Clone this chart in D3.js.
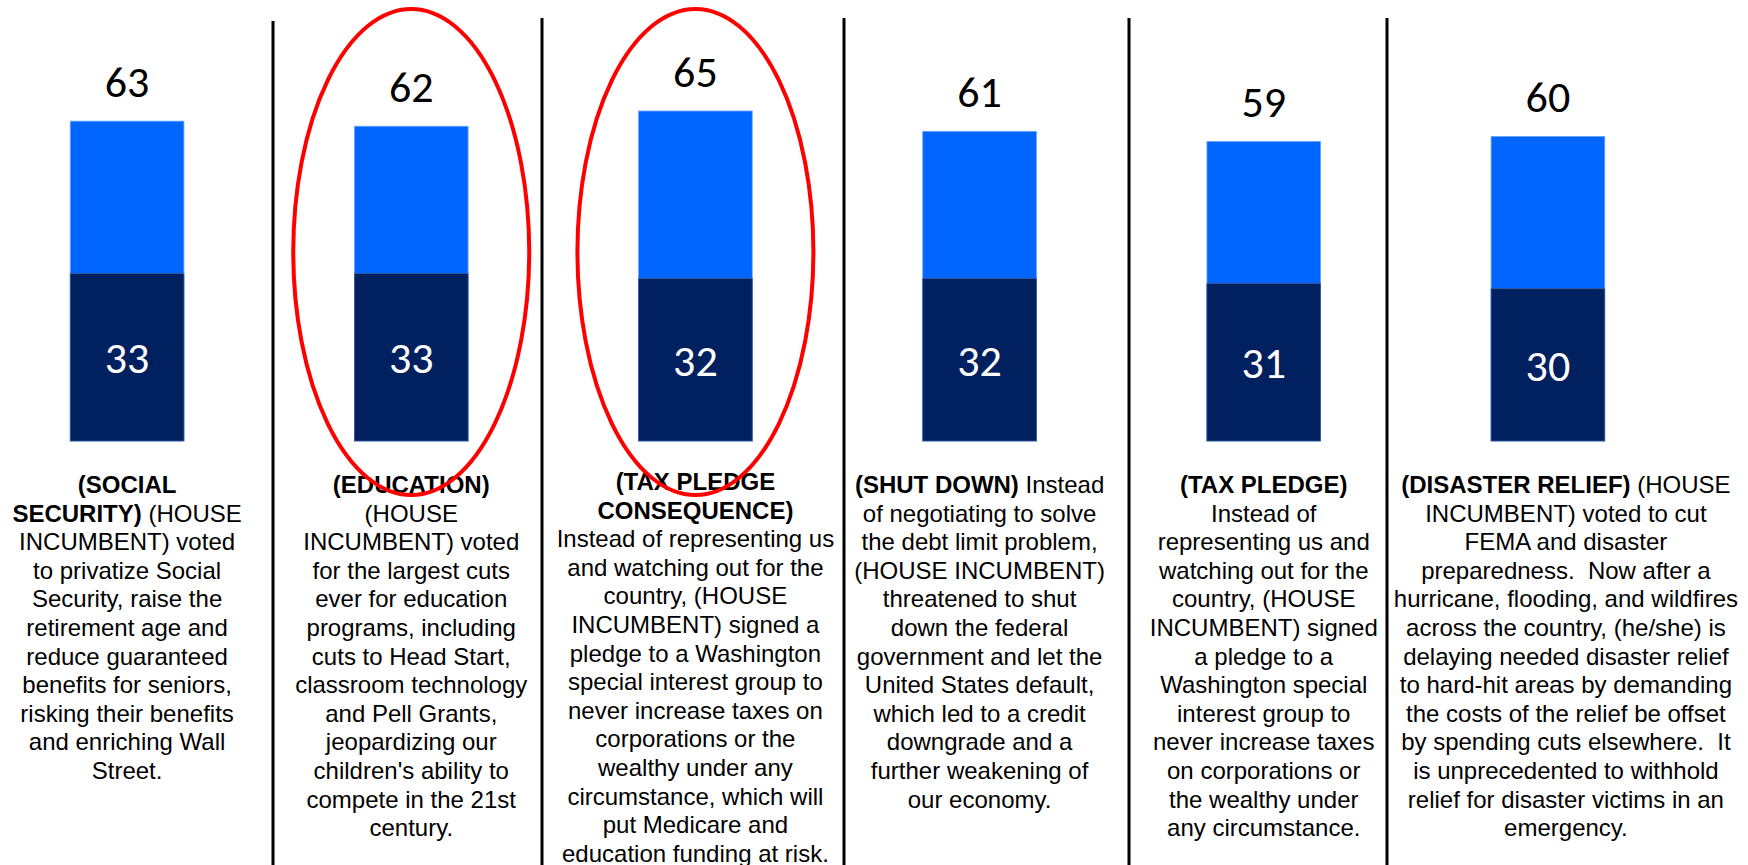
<!DOCTYPE html>
<html>
<head>
<meta charset="utf-8">
<script src="https://cdn.jsdelivr.net/npm/d3@7"></script>
<style>
  body { margin: 0; background: #fff; }
  svg { display: block; }
  .num { font-family: Carlito, Calibri, Lato, sans-serif; font-size: 44px; }
  .desc { font-family: "Liberation Sans", Arial, sans-serif; font-size: 24px; fill: #000; }
</style>
</head>
<body>
<div id="chart"></div>
<script>
const categories = ["SOCIAL SECURITY", "EDUCATION", "TAX PLEDGE CONSEQUENCE", "SHUT DOWN", "TAX PLEDGE", "DISASTER RELIEF"];
const totalValues = [63, 62, 65, 61, 59, 60];
const baseValues = [33, 33, 32, 32, 31, 30];
const highlighted = ["EDUCATION", "TAX PLEDGE CONSEQUENCE"];

// text under each bar, line by line, bold parts between ** **
const descriptions = [
    ["**(SOCIAL**", "**SECURITY)** (HOUSE", "INCUMBENT) voted", "to privatize Social", "Security, raise the",
     "retirement age and", "reduce guaranteed", "benefits for seniors,", "risking their benefits",
     "and enriching Wall", "Street."],
    ["**(EDUCATION)**", "(HOUSE", "INCUMBENT) voted", "for the largest cuts", "ever for education",
     "programs, including", "cuts to Head Start,", "classroom technology", "and Pell Grants,",
     "jeopardizing our", "children's ability to", "compete in the 21st", "century."],
    ["**(TAX PLEDGE**", "**CONSEQUENCE)**", "Instead of representing us", "and watching out for the",
     "country, (HOUSE", "INCUMBENT) signed a", "pledge to a Washington", "special interest group to",
     "never increase taxes on", "corporations or the", "wealthy under any", "circumstance, which will",
     "put Medicare and", "education funding at risk."],
    ["**(SHUT DOWN)** Instead", "of negotiating to solve", "the debt limit problem,", "(HOUSE INCUMBENT)",
     "threatened to shut", "down the federal", "government and let the", "United States default,",
     "which led to a credit", "downgrade and a", "further weakening of", "our economy."],
    ["**(TAX PLEDGE)**", "Instead of", "representing us and", "watching out for the", "country, (HOUSE",
     "INCUMBENT) signed", "a pledge to a", "Washington special", "interest group to",
     "never increase taxes", "on corporations or", "the wealthy under", "any circumstance."],
    ["**(DISASTER RELIEF)** (HOUSE", "INCUMBENT) voted to cut", "FEMA and disaster",
     "preparedness.\u00a0 Now after a", "hurricane, flooding, and wildfires", "across the country, (he/she) is",
     "delaying needed disaster relief", "to hard-hit areas by demanding", "the costs of the relief be offset",
     "by spending cuts elsewhere.\u00a0 It", "is unprecedented to withhold", "relief for disaster victims in an",
     "emergency."]
];

const width = 1748, height = 865;
const lightBlue = "#0066ff", navy = "#002060";

// layout of the slide decorations
const dividerX = [273, 542, 844, 1129, 1387];
const dividerTop = [21, 18, 18, 18, 18];
const descTop = [493, 493, 490, 493, 493, 493];
const descShift = [0, 0, 0, 0, 0, 18];
const lineHeight = 28.6;

const svg = d3.select("#chart").append("svg")
    .attr("width", width)
    .attr("height", height);

const x = d3.scaleBand()
    .domain(categories)
    .range([-15, 1690])
    .paddingInner(0.6)
    .paddingOuter(0.3);

const y = d3.scaleLinear()
    .domain([0, 65])
    .range([441, 111]);

const rows = categories.map((cat, i) => ({
    cat, total: totalValues[i], base: baseValues[i], lines: descriptions[i], idx: i
}));

const center = d => x(d.cat) + x.bandwidth() / 2;

// vertical separators
svg.selectAll(".divider")
    .data(dividerX)
    .enter()
    .append("line")
    .attr("class", "divider")
    .attr("x1", d => d).attr("x2", d => d)
    .attr("y1", (d, i) => dividerTop[i])
    .attr("y2", height)
    .attr("stroke", "#000")
    .attr("stroke-width", 3);

const bars = svg.selectAll(".bar")
    .data(rows)
    .enter()
    .append("g")
    .attr("class", "bar");

bars.append("rect")
    .attr("x", d => x(d.cat))
    .attr("y", d => y(d.total))
    .attr("width", x.bandwidth())
    .attr("height", d => y(0) - y(d.total))
    .attr("fill", lightBlue)
    .attr("stroke", "#6ea4ff")
    .attr("stroke-width", 0.8);

bars.append("rect")
    .attr("x", d => x(d.cat))
    .attr("y", d => y(d.base))
    .attr("width", x.bandwidth())
    .attr("height", d => y(0) - y(d.base))
    .attr("fill", navy)
    .attr("stroke", "#3d5c99")
    .attr("stroke-width", 0.8);

bars.append("text")
    .attr("class", "num")
    .attr("x", center)
    .attr("y", d => y(d.total) - 24)
    .attr("text-anchor", "middle")
    .attr("fill", "#000")
    .text(d => d.total);

bars.append("text")
    .attr("class", "num")
    .attr("x", center)
    .attr("y", d => (y(d.base) + y(0)) / 2 + 16)
    .attr("text-anchor", "middle")
    .attr("fill", "#fff")
    .text(d => d.base);

// descriptions
const desc = svg.selectAll(".desc")
    .data(rows)
    .enter()
    .append("text")
    .attr("class", "desc")
    .attr("text-anchor", "middle");

desc.each(function (d) {
    const textNode = d3.select(this);
    const cx = center(d) + descShift[d.idx];
    d.lines.forEach((line, li) => {
        const lineSpan = textNode.append("tspan")
            .attr("x", cx)
            .attr("y", descTop[d.idx] + li * lineHeight);
        line.split(/(\*\*[^*]+\*\*)/).filter(part => part.length).forEach(part => {
            const isBold = part.startsWith("**");
            lineSpan.append("tspan")
                .attr("font-weight", isBold ? "bold" : null)
                .text(isBold ? part.slice(2, -2) : part);
        });
    });
});

// red circles around the highlighted results
svg.selectAll(".highlight")
    .data(rows.filter(d => highlighted.includes(d.cat)))
    .enter()
    .append("ellipse")
    .attr("class", "highlight")
    .attr("cx", center)
    .attr("cy", 252)
    .attr("rx", 118)
    .attr("ry", 243)
    .attr("fill", "none")
    .attr("stroke", "#ff0000")
    .attr("stroke-width", 4);
</script>
</body>
</html>
